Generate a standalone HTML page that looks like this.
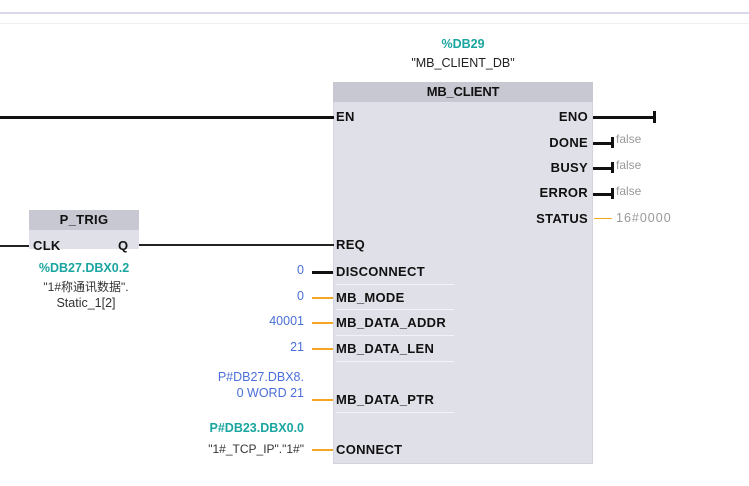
<!DOCTYPE html>
<html><head><meta charset="utf-8"><style>
html,body{margin:0;padding:0;background:#fff;width:749px;height:486px;overflow:hidden;position:relative;font-family:"Liberation Sans","Noto Sans CJK SC",sans-serif;}
div{position:absolute;box-sizing:border-box;}
.t{font-size:13px;white-space:nowrap;line-height:14px;}
.b{font-weight:bold;color:#111;font-size:13px;letter-spacing:0.3px}
.teal{color:#1aa5a0;font-weight:bold;font-size:12.5px}
.blue{color:#4a6fd8;font-size:12.5px}
.gray{color:#999;font-size:12px}
.bl{background:#111;height:3px}
.or{background:#f5a623;height:2px}
</style></head><body>
<div style="left:0;top:12px;width:749px;height:2px;background:#d8d8ea"></div>
<div style="left:0;top:23px;width:749px;height:1px;background:#efefef"></div>

<div style="left:333px;top:82px;width:260px;height:382px;background:#e0e0e8;border:1px solid #d4d4dc"></div>
<div style="left:333px;top:82px;width:260px;height:20px;background:#c8c8d2"></div>
<div class="t b" style="left:333px;top:85px;width:260px;text-align:center;letter-spacing:-0.2px">MB_CLIENT</div>
<div class="t teal" style="left:333px;top:37px;width:260px;text-align:center">%DB29</div>
<div class="t" style="left:333px;top:56px;width:260px;text-align:center;font-size:12.5px;color:#222">"MB_CLIENT_DB"</div>

<div class="bl" style="left:0;top:116px;width:334px"></div>
<div class="t b" style="left:336px;top:110px">EN</div>

<div class="t b" style="left:480px;top:110px;width:108px;text-align:right">ENO</div>
<div class="bl" style="left:593px;top:116px;width:62px"></div>
<div style="left:653px;top:111px;width:3px;height:12px;background:#111"></div>

<div class="t b" style="left:480px;top:136px;width:108px;text-align:right">DONE</div>
<div class="bl" style="left:593px;top:142px;width:20px"></div>
<div style="left:611px;top:137px;width:3px;height:11px;background:#111"></div>
<div class="t gray" style="left:616px;top:132px">false</div>

<div class="t b" style="left:480px;top:161px;width:108px;text-align:right">BUSY</div>
<div class="bl" style="left:593px;top:167px;width:20px"></div>
<div style="left:611px;top:162px;width:3px;height:11px;background:#111"></div>
<div class="t gray" style="left:616px;top:158px">false</div>

<div class="t b" style="left:480px;top:186px;width:108px;text-align:right">ERROR</div>
<div class="bl" style="left:593px;top:193px;width:20px"></div>
<div style="left:611px;top:188px;width:3px;height:11px;background:#111"></div>
<div class="t gray" style="left:616px;top:184px">false</div>

<div class="t b" style="left:480px;top:212px;width:108px;text-align:right">STATUS</div>
<div class="or" style="left:594px;top:218px;width:18px;height:1px"></div>
<div class="t gray" style="left:616px;top:211px;font-size:12.5px;letter-spacing:1px">16#0000</div>

<div style="left:29px;top:210px;width:110px;height:39px;background:#e0e0e8"></div>
<div style="left:29px;top:210px;width:110px;height:20px;background:#c8c8d2"></div>
<div class="t b" style="left:29px;top:213px;width:110px;text-align:center">P_TRIG</div>
<div class="t b" style="left:33px;top:239px">CLK</div>
<div class="t b" style="left:118px;top:239px">Q</div>
<div style="left:0;top:245px;width:29px;height:2px;background:#222"></div>
<div style="left:139px;top:244px;width:195px;height:2px;background:#222"></div>
<div class="t b" style="left:336px;top:238px">REQ</div>
<div class="t teal" style="left:29px;top:261px;width:110px;text-align:center">%DB27.DBX0.2</div>
<div class="t" style="left:16px;top:280px;width:140px;text-align:center;font-size:12px;color:#333">"1#称通讯数据".</div>
<div class="t" style="left:16px;top:296px;width:140px;text-align:center;font-size:12.5px;color:#333">Static_1[2]</div>

<div class="t blue" style="left:200px;top:263px;width:104px;text-align:right">0</div>
<div class="bl" style="left:312px;top:271px;width:21px"></div>
<div class="t b" style="left:336px;top:265px">DISCONNECT</div>

<div class="t blue" style="left:200px;top:289px;width:104px;text-align:right">0</div>
<div class="or" style="left:312px;top:297px;width:21px"></div>
<div class="t b" style="left:336px;top:291px">MB_MODE</div>

<div class="t blue" style="left:200px;top:314px;width:104px;text-align:right">40001</div>
<div class="or" style="left:312px;top:322px;width:21px"></div>
<div class="t b" style="left:336px;top:316px">MB_DATA_ADDR</div>

<div class="t blue" style="left:200px;top:340px;width:104px;text-align:right">21</div>
<div class="or" style="left:312px;top:348px;width:21px"></div>
<div class="t b" style="left:336px;top:342px">MB_DATA_LEN</div>

<div class="t blue" style="left:150px;top:370px;width:154px;text-align:right">P#DB27.DBX8.</div>
<div class="t blue" style="left:150px;top:386px;width:154px;text-align:right">0 WORD 21</div>
<div class="or" style="left:312px;top:399px;width:21px"></div>
<div class="t b" style="left:336px;top:393px">MB_DATA_PTR</div>

<div class="t teal" style="left:150px;top:421px;width:154px;text-align:right">P#DB23.DBX0.0</div>
<div class="t" style="left:120px;top:442px;width:184px;text-align:right;font-size:12px;color:#333">"1#_TCP_IP"."1#"</div>
<div class="or" style="left:312px;top:449px;width:21px"></div>
<div class="t b" style="left:336px;top:443px">CONNECT</div>

<div style="left:336px;top:284px;width:118px;height:1px;background:#f4f4f8"></div>
<div style="left:336px;top:309px;width:118px;height:1px;background:#f4f4f8"></div>
<div style="left:336px;top:335px;width:118px;height:1px;background:#f4f4f8"></div>
<div style="left:336px;top:361px;width:118px;height:1px;background:#f4f4f8"></div>
<div style="left:336px;top:412px;width:118px;height:1px;background:#f4f4f8"></div>
</body></html>
